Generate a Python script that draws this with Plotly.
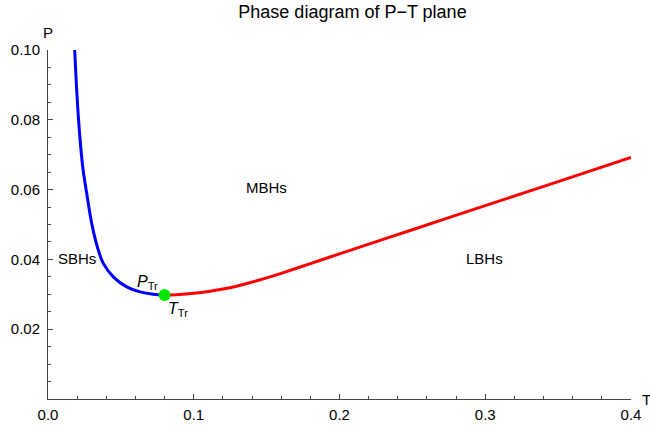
import plotly.graph_objects as go

# Coexistence curves
sbh_mbh_T = [0.01832, 0.01969, 0.02148, 0.02381, 0.02655, 0.02998, 0.03383, 0.03794,
             0.04480, 0.05400, 0.06312, 0.07220, 0.08000]
sbh_mbh_P = [0.10000, 0.08857, 0.07710, 0.06657, 0.05894, 0.05033, 0.04362, 0.03885,
             0.03501, 0.03214, 0.03070, 0.03000, 0.02980]

mbh_lbh_T = [0.0800, 0.0900, 0.1000, 0.1100, 0.1200, 0.1300, 0.1400, 0.1500, 0.1600,
             0.1800, 0.2000, 0.2500, 0.3000, 0.3500, 0.4000]
mbh_lbh_P = [0.0298, 0.02995, 0.0303, 0.0308, 0.0315, 0.0324, 0.0335, 0.0347, 0.0360,
             0.0388, 0.0416, 0.0485, 0.0554, 0.0623, 0.0692]

triple_T = [0.0800]
triple_P = [0.0298]

region_labels = ["SBHs", "MBHs", "LBHs"]
region_T = [0.020, 0.1496, 0.2998]
region_P = [0.0404, 0.0605, 0.0404]

x_ticks = [0.0, 0.1, 0.2, 0.3, 0.4]
y_ticks = [0.02, 0.04, 0.06, 0.08, 0.10]

FONT = "Liberation Sans, Arial, sans-serif"

fig = go.Figure()
fig.add_trace(go.Scatter(x=sbh_mbh_T, y=sbh_mbh_P, mode="lines",
                         line=dict(color="#0000ff", width=3, shape="spline", smoothing=1.0),
                         showlegend=False, hoverinfo="skip"))
fig.add_trace(go.Scatter(x=mbh_lbh_T, y=mbh_lbh_P, mode="lines",
                         line=dict(color="#ff0000", width=3, shape="spline", smoothing=1.0),
                         showlegend=False, hoverinfo="skip"))
fig.add_trace(go.Scatter(x=triple_T, y=triple_P, mode="markers",
                         marker=dict(color="#00e600", size=12, line=dict(width=0)),
                         showlegend=False, hoverinfo="skip"))

for lab, tx, py in zip(region_labels, region_T, region_P):
    fig.add_annotation(x=tx, y=py, xref="x", yref="y", text=lab, showarrow=False,
                       font=dict(size=15, color="black", family=FONT))

fig.add_annotation(x=0.0686, y=0.0335, xref="x", yref="y",
                   text="<i>P</i><sub>Tr</sub>", showarrow=False,
                   font=dict(size=16, color="black", family=FONT))
fig.add_annotation(x=0.0892, y=0.0257, xref="x", yref="y",
                   text="<i>T</i><sub>Tr</sub>", showarrow=False,
                   font=dict(size=16, color="black", family=FONT))

# axis labels
fig.add_annotation(x=0, y=1, xref="x", yref="paper", yshift=18, yanchor="middle",
                   xanchor="center", text="P",
                   showarrow=False, font=dict(size=15, color="black", family=FONT))
fig.add_annotation(x=1, y=0, xref="paper", yref="y", xshift=9, xanchor="left",
                   yanchor="middle", text="T",
                   showarrow=False, font=dict(size=15, color="black", family=FONT))

axis_common = dict(showgrid=False, zeroline=False, showline=True, linecolor="#444",
                   linewidth=1, ticks="inside", ticklen=5, tickcolor="#444",
                   automargin=False,
                   tickfont=dict(size=15, color="black", family=FONT))

fig.update_xaxes(range=[0, 0.4], tickvals=x_ticks, ticktext=[f"{v:.1f}" for v in x_ticks],
                 ticklabelstandoff=2,
                 minor=dict(dtick=0.02, tick0=0, ticks="inside", ticklen=3, tickcolor="#444"),
                 **axis_common)
fig.update_yaxes(range=[0, 0.1], tickvals=y_ticks, ticktext=[f"{v:.2f}" for v in y_ticks],
                 ticklabelstandoff=4,
                 minor=dict(dtick=0.005, tick0=0, ticks="inside", ticklen=3, tickcolor="#444"),
                 **axis_common)

fig.update_layout(
    width=650, height=427,
    margin=dict(l=48, r=19, t=50, b=28, autoexpand=False),
    paper_bgcolor="white", plot_bgcolor="white",
    title=dict(text="Phase diagram of P\u2212T plane", x=339.5 / 650, xref="paper",
               xanchor="center", y=1, yref="container",
               yanchor="top", pad=dict(t=5),
               font=dict(size=18, color="black", family=FONT)),
    font=dict(family=FONT),
)

fig.write_html("out.html", config={"displayModeBar": False},
               post_script="document.body.style.margin='0';document.body.style.overflow='hidden';")
